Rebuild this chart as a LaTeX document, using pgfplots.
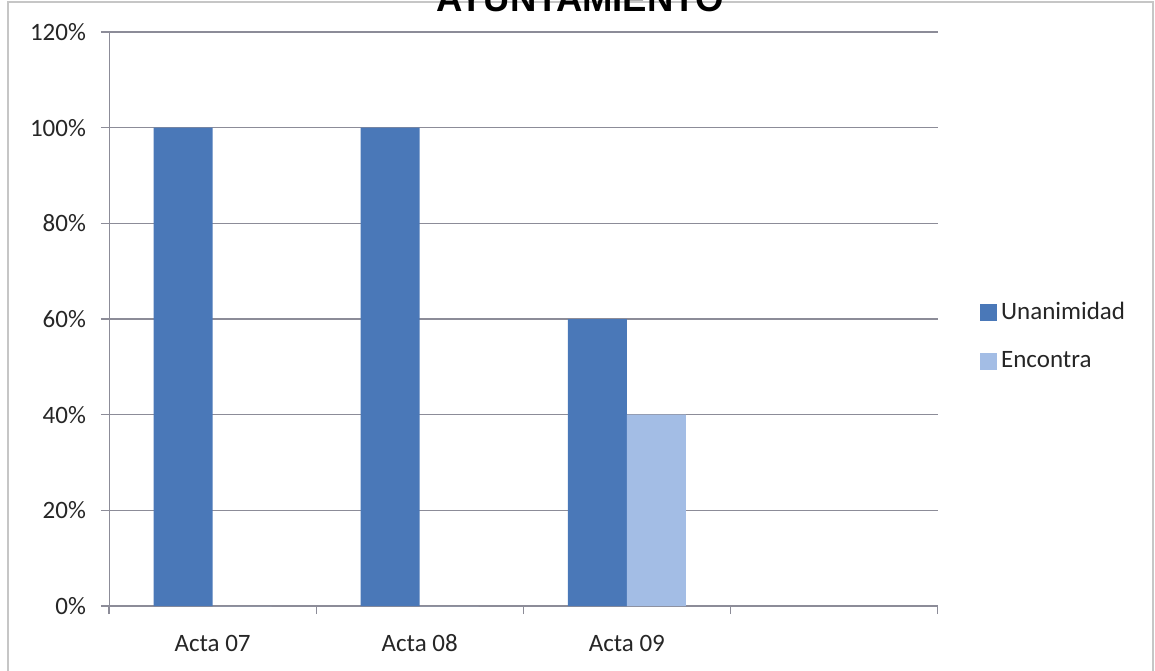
\documentclass[border=0pt]{standalone}
\usepackage{pgfplots}
\pgfplotsset{compat=1.18}
\usepackage{fontspec}
\setmainfont{Carlito}
\newfontfamily\titlefont{Liberation Sans}

\definecolor{unan}{HTML}{4A78B8}
\definecolor{enc}{HTML}{A3BDE5}
\definecolor{gridc}{HTML}{8C8C98}

\begin{document}
\begin{tikzpicture}
\useasboundingbox (0,0) rectangle (577.5pt,335pt);
% outer chart frame
\draw[gray!45, line width=0.8pt] (4pt,-5pt) -- (4pt,334pt) -- (576.5pt,334pt) -- (576.5pt,-5pt);
\begin{axis}[
  at={(54.5pt,32pt)}, anchor=south west,
  scale only axis, width=414.25pt, height=287pt,
  ybar=0pt, bar width=29.5pt,
  xmin=-0.5, xmax=3.5, ymin=0, ymax=120,
  axis x line=bottom, axis y line=left,
  axis line style={-, gridc},
  xtick={0,1,2,3}, xticklabels={Acta 07,Acta 08,Acta 09,},
  major x tick style={draw=none},
  minor xtick={-0.5,0.5,1.5,2.5,3.5},
  ytick={0,20,...,120},
  yticklabel={\pgfmathprintnumber{\tick}\%},
  /pgf/number format/assume math mode=true,
  ymajorgrids, grid style={gridc, line width=0.6pt},
  tick align=outside, major tick length=4pt, minor tick length=4pt,
  tick style={gridc, line width=0.6pt},
  ticklabel style={font=\fontsize{12.5}{15}\selectfont, text=black!85},
  xticklabel style={yshift=-6pt, text height=9pt, text depth=0pt},
  yticklabel style={xshift=-4pt},
  legend style={at={(1.051,0.4695)}, anchor=west, draw=none, fill=none,
    font=\fontsize{12.5}{15}\selectfont, text=black!85, row sep=10.5pt,
    inner sep=0pt, nodes={inner sep=2pt}},
  legend cell align=left,
  sq/.style={legend image code/.code={\fill[##1] (0pt,-4.25pt) rectangle (8.5pt,4.25pt);}},
]
\addplot[fill=unan, draw=none, sq] coordinates {(0,100) (1,100) (2,60)};
\addlegendentry{Unanimidad}
\addplot[fill=enc, draw=none, sq] coordinates {(0,0) (1,0) (2,40)};
\addlegendentry{Encontra}
\end{axis}
\node[font=\titlefont\bfseries\fontsize{18.25}{20}\selectfont, anchor=base] at (290pt,329pt) {AYUNTAMIENTO};
\end{tikzpicture}
\end{document}
